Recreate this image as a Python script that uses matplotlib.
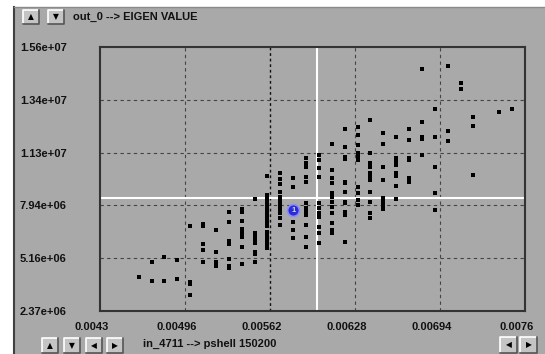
import numpy as np
import matplotlib.pyplot as plt
from matplotlib.patches import Rectangle
from matplotlib.lines import Line2D
from matplotlib.transforms import ScaledTranslation

# axis ticks as shown on the panel
x_ticks = [0.0043, 0.00496, 0.00562, 0.00628, 0.00694, 0.0076]
x_tick_labels = ["0.0043", "0.00496", "0.00562", "0.00628", "0.00694", "0.0076"]
y_min, y_max = 2.37e6, 1.56e7
y_tick_labels = ["2.37e+06", "5.16e+06", "7.94e+06", "1.13e+07", "1.34e+07", "1.56e+07"]

# scatter data, one column per in_4711 value, y in millions
col_x = [0.0046, 0.0047, 0.0048, 0.0049, 0.0050, 0.0051, 0.0052, 0.0053, 0.0054,
         0.0055, 0.0056, 0.0057, 0.0058, 0.0059, 0.0060, 0.0061, 0.0062, 0.0063,
         0.0064, 0.0065, 0.0066, 0.0067, 0.0068, 0.0069, 0.0070, 0.0071, 0.0072,
         0.0074, 0.0075]
col_y = [
    [4.06],
    [4.81, 3.89],
    [5.06, 3.89],
    [4.93, 3.97],
    [6.64, 3.80, 3.70, 3.17],
    [6.73, 6.63, 5.73, 5.43, 4.83],
    [6.43, 5.34, 4.81, 4.63],
    [7.32, 6.82, 5.89, 5.73, 4.98, 4.64, 4.51],
    [7.48, 7.35, 6.89, 6.46, 6.29, 6.09, 5.59, 4.73],
    [7.97, 6.29, 6.18, 6.03, 5.89, 5.76, 5.34, 5.23, 4.81],
    [9.12, 8.20, 8.00, 7.84, 7.63, 7.43, 7.23, 7.03, 6.83, 6.63, 6.33, 6.13, 5.93, 5.73, 5.53],
    [9.29, 8.99, 8.74, 8.34, 8.09, 7.88, 7.68, 7.48, 7.28, 7.03, 6.68],
    [9.03, 8.58, 7.28, 6.83, 6.43, 6.03],
    [10.04, 9.79, 9.59, 9.09, 8.84, 7.78, 7.53, 7.33, 7.18, 6.68, 6.08, 5.58],
    [10.19, 9.94, 9.54, 9.10, 7.78, 7.53, 7.28, 7.10, 6.60, 6.28, 5.78],
    [10.74, 9.44, 9.04, 8.78, 8.28, 8.10, 7.85, 7.60, 7.28, 6.78, 6.43, 6.28],
    [11.48, 10.57, 10.10, 9.97, 8.85, 8.78, 8.35, 7.85, 7.78, 7.35, 7.18, 5.84],
    [11.59, 11.19, 10.69, 10.29, 10.10, 9.94, 8.60, 8.28, 7.93, 7.68],
    [11.94, 10.29, 9.79, 9.60, 9.29, 9.10, 8.93, 8.35, 7.85, 7.28, 7.02],
    [11.29, 10.74, 9.60, 8.93, 8.03, 7.93, 7.78, 7.60, 7.48],
    [11.10, 10.04, 9.85, 9.69, 9.29, 9.14, 8.65, 7.97],
    [11.48, 10.94, 10.04, 9.94, 9.04, 8.85],
    [14.48, 11.86, 11.07, 10.99, 10.19],
    [12.48, 11.10, 9.60, 8.27, 7.43],
    [14.65, 11.40, 10.90],
    [13.81, 13.48],
    [12.11, 11.64, 9.19],
    [12.36],
    [12.48],
]

# cursor cross and the selected point
cursor_x = 0.005985
cursor_y = 8.03e6
picked_x, picked_y = 0.0058, 7.43e6

plt.rcParams['font.family'] = ['Liberation Sans', 'DejaVu Sans']

W, H = 545, 354
panel = "#a9a9a9"
fig = plt.figure(figsize=(W / 100, H / 100), dpi=100, facecolor="white")


def fx(x):
    return x / W


def fy(y):
    return 1 - y / H


# grey window panel
fig.patches.append(Rectangle((fx(13), 0), 1 - fx(13), fy(7), transform=fig.transFigure,
                             facecolor=panel, edgecolor="none", zorder=-5))
fig.lines.append(Line2D([fx(14), fx(14)], [0, fy(7)], transform=fig.transFigure,
                        color="#404040", lw=1.5))
fig.lines.append(Line2D([fx(14), 1], [fy(7), fy(7)], transform=fig.transFigure,
                        color="#8a8a8a", lw=1))


def button(x0, y0, w, h, glyph):
    fig.patches.append(Rectangle((fx(x0), fy(y0 + h)), w / W, h / H, transform=fig.transFigure,
                                 facecolor="#c4c4c4", edgecolor="none", zorder=1))
    fig.lines.append(Line2D([fx(x0), fx(x0), fx(x0 + w)], [fy(y0 + h), fy(y0), fy(y0)],
                            transform=fig.transFigure, color="white", lw=1.2))
    fig.lines.append(Line2D([fx(x0), fx(x0 + w), fx(x0 + w)], [fy(y0 + h), fy(y0 + h), fy(y0)],
                            transform=fig.transFigure, color="#555555", lw=1.2))
    fig.text(fx(x0 + w / 2), fy(y0 + h / 2), glyph, ha="center", va="center",
             fontsize=5.5, color="black", family="DejaVu Sans")


button(23, 10, 16, 14, "▲")
button(48, 10, 16, 14, "▼")
for bx, g in zip([42, 64, 86, 107], ["▲", "▼", "◀", "▶"]):
    button(bx, 338, 16, 15, g)
button(500, 337, 17, 16, "◀")
button(520, 337, 17, 16, "▶")

fig.text(fx(73), fy(17), "out_0 --> EIGEN VALUE", ha="left", va="center",
         fontsize=8, fontweight="bold", color="#111111")
fig.text(fx(143), fy(344), "in_4711 --> pshell 150200", ha="left", va="center",
         fontsize=8, fontweight="bold", color="#111111")

ax = fig.add_axes([fx(100), fy(311), 425 / W, 264 / H])
ax.set_facecolor(panel)
ax.set_xlim(x_ticks[0], x_ticks[-1])
ax.set_ylim(y_min, y_max)
y_ticks = np.linspace(y_min, y_max, len(y_tick_labels))
ax.set_xticks(x_ticks)
ax.set_xticklabels(x_tick_labels)
ax.set_yticks(y_ticks)
ax.set_yticklabels(y_tick_labels)
ax.tick_params(length=0, labelsize=8, colors="#111111")
ax.tick_params(axis="y", pad=24)
ax.tick_params(axis="x", pad=8)
for lab in ax.get_xticklabels() + ax.get_yticklabels():
    lab.set_fontweight("bold")
shift = ScaledTranslation(-8 / 100, 0, fig.dpi_scale_trans)
for lab in ax.get_xticklabels():
    lab.set_transform(lab.get_transform() + shift)

for s in ax.spines.values():
    s.set_color("#333333")
    s.set_linewidth(1.5)

# dashed grid
for xv in x_ticks[1:-1]:
    dark = abs(xv - 0.00562) < 1e-9
    ax.axvline(xv, color="#111111" if dark else "#444444", lw=1.0 if dark else 0.8,
               ls=(0, (2, 2)) if dark else (0, (3, 3)), zorder=1)
for yv in y_ticks[1:-1]:
    ax.axhline(yv, color="#444444", lw=0.8, ls=(0, (3, 3)), zorder=1)

# cursor
ax.axvline(cursor_x, color="white", lw=1.5, zorder=2)
ax.axhline(cursor_y, color="white", lw=1.5, zorder=2)

xs = np.concatenate([[cx] * len(cy) for cx, cy in zip(col_x, col_y)])
ys = np.concatenate([np.array(cy) * 1e6 for cy in col_y])
ax.scatter(xs, ys, marker="s", s=6.5, color="black", linewidths=0, zorder=3)

ax.plot(picked_x, picked_y, "o", ms=8.5, mfc="#2b2bd6", mec="#8a8aff", mew=1.2, zorder=4)
ax.text(picked_x, picked_y, "1", ha="center", va="center", fontsize=5.5,
        fontweight="bold", color="#dddddd", zorder=5)

fig.savefig("out.png", dpi=100, facecolor="white")
